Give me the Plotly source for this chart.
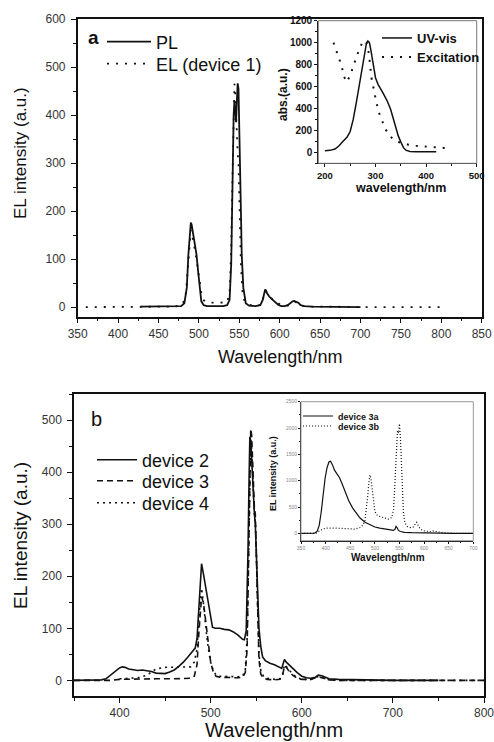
import plotly.graph_objects as go

W, H = 494, 742
FONT = "Liberation Sans, Arial, sans-serif"

# ---------------- Panel a: main ----------------
pl_x = [428, 440, 460, 470, 478, 482, 485, 487, 489, 490, 491, 493, 495, 497, 499, 501, 503, 506, 510, 520, 530,
        535, 538, 540, 542, 543, 544, 545, 546, 547, 548, 549, 550, 551, 552, 553, 555, 558, 562, 570, 576, 579,
        581, 582, 584, 587, 590, 594, 598, 602, 606, 610, 613, 616, 618, 620, 623, 626, 630, 640, 660, 680, 700]
pl_y = [1, 1, 1, 1, 2, 8, 40, 110, 165, 176, 172, 150, 128, 110, 75, 35, 12, 4, 2, 2, 2,
        4, 15, 90, 320, 400, 430, 405, 385, 430, 466, 455, 390, 310, 200, 110, 40, 8, 3, 2, 4, 15,
        33, 37, 30, 22, 17, 10, 5, 2, 2, 4, 9, 12, 13, 12, 9, 4, 2, 1, 1, 0, 0]

el_x = [360, 380, 400, 420, 430, 440, 460, 475, 480, 484, 487, 489, 490, 491, 493, 495, 497, 500, 503, 506, 510,
        520, 530, 535, 538, 540, 541, 542, 543, 544, 545, 546, 547, 548, 549, 550, 551, 552, 554, 556, 560, 570,
        578, 581, 583, 586, 590, 595, 600, 605, 610, 615, 618, 621, 625, 630, 640, 660, 680, 700, 720, 740, 760,
        780, 800]
el_y = [0, 0, 0, 0, 0, 1, 1, 2, 5, 30, 100, 150, 160, 155, 140, 120, 100, 65, 30, 14, 10,
        9, 9, 10, 30, 120, 220, 330, 420, 465, 445, 400, 340, 320, 300, 230, 150, 90, 30, 15, 5, 3,
        5, 30, 34, 25, 18, 12, 6, 3, 3, 8, 11, 10, 5, 2, 1, 1, 0, 0, 0, 0, 0,
        0, 0]

# ---------------- Panel a: inset ----------------
uv_x = [200, 210, 220, 228, 236, 244, 250, 256, 262, 268, 273, 278, 282, 285, 288, 291, 295, 300, 305, 309, 315,
        323, 330, 335, 340, 345, 350, 355, 360, 368, 380, 400, 420]
uv_y = [15, 18, 30, 60, 100, 140, 190, 300, 450, 620, 770, 910, 990, 1015, 1000, 930, 800, 680, 620, 590, 540,
        470, 390, 310, 230, 150, 95, 45, 20, 8, 5, 5, 5]

ex_x = [217, 225, 233, 237, 243, 250, 257, 264, 270, 276, 282, 287, 292, 297, 302, 307, 312, 318, 325, 335, 345,
        356, 365, 380, 400, 420, 435, 450]
ex_y = [1000, 890, 790, 700, 640, 700, 800, 890, 960, 1020, 1000, 900, 680, 560, 450, 360, 300, 230, 165, 120, 95,
        80, 70, 60, 50, 45, 40, 35]

# ---------------- Panel b: main ----------------
d2_x = [350, 370, 380, 385, 390, 395, 400, 403, 406, 410, 415, 420, 425, 430, 435, 440, 445, 450, 455, 460, 465,
        470, 475, 480, 483, 485, 487, 489, 490, 492, 494, 496, 498, 500, 502, 505, 510, 515, 520, 525, 530, 535,
        537, 539, 540, 541, 542, 543, 544, 545, 546, 547, 548, 549, 550, 551, 552, 553, 555, 557, 560, 565, 570,
        575, 578, 580, 581, 583, 586, 590, 595, 600, 605, 610, 615, 618, 622, 626, 630, 640, 660, 700, 750]
d2_y = [0, 0, 1, 3, 10, 18, 24, 26, 25, 22, 20, 19, 20, 19, 17, 14, 13, 13, 16, 20, 27,
        35, 45, 55, 62, 80, 130, 200, 224, 205, 185, 165, 140, 118, 102, 100, 100, 98, 97, 93, 87, 79,
        78, 95, 150, 250, 370, 468, 460, 420, 380, 340, 320, 300, 250, 190, 140, 100, 65, 45, 38, 33, 30,
        25, 23, 35, 40, 35, 30, 22, 15, 8, 5, 4, 6, 10, 9, 6, 3, 2, 1, 0, 0]

d3_x = [350, 370, 390, 400, 420, 440, 460, 470, 478, 482, 485, 487, 489, 490, 492, 494, 496, 498, 500, 503, 506,
        510, 520, 530, 535, 538, 540, 541, 542, 543, 544, 545, 546, 547, 548, 549, 550, 551, 552, 553, 555, 558,
        562, 570, 576, 579, 581, 583, 586, 590, 595, 600, 610, 615, 620, 625, 630, 640, 700, 750, 800]
d3_y = [0, 0, 0, 2, 3, 3, 3, 3, 4, 8, 30, 90, 140, 160, 150, 120, 90, 60, 35, 15, 8,
        6, 5, 5, 6, 15, 60, 150, 280, 400, 483, 470, 420, 360, 330, 320, 250, 160, 90, 40, 12, 4,
        2, 1, 2, 10, 28, 25, 18, 10, 4, 2, 2, 5, 6, 3, 1, 0, 0, 0, 0]

d4_x = [400, 420, 430, 440, 450, 460, 470, 478, 482, 485, 487, 489, 490, 492, 494, 496, 498, 500, 503, 506, 510,
        520, 530, 535, 538, 540, 541, 542, 543, 544, 545, 546, 547, 548, 549, 550, 551, 552, 553, 555, 558, 562,
        570, 576, 579, 581, 583, 586, 590, 595, 600, 610, 615, 620, 625, 630, 640, 700, 750, 800]
d4_y = [3, 5, 10, 22, 25, 25, 25, 26, 35, 60, 120, 170, 177, 150, 110, 80, 55, 35, 18, 10, 8,
        7, 7, 8, 20, 80, 170, 300, 420, 470, 440, 390, 340, 320, 300, 260, 180, 100, 50, 20, 8, 4,
        2, 3, 12, 30, 27, 20, 12, 5, 2, 2, 6, 8, 4, 1, 0, 0, 0, 0]

# ---------------- Panel b: inset ----------------
d3a_x = [350, 370, 378, 383, 387, 391, 395, 399, 403, 407, 410, 414, 418, 423, 428, 433, 440, 447, 455, 463, 470,
         480, 490, 500, 510, 520, 530, 538, 541, 543, 545, 548, 552, 560, 575, 600, 630, 660, 700]
d3a_y = [0, 0, 5, 40, 150, 400, 750, 1050, 1250, 1360, 1370, 1300, 1200, 1120, 1060, 950, 780, 620, 480, 370, 290,
         210, 160, 120, 100, 80, 60, 55, 80, 130, 110, 55, 35, 20, 12, 6, 3, 1, 0]

d3b_x = [350, 380, 390, 400, 420, 440, 460, 470, 476, 480, 483, 486, 488, 490, 492, 494, 496, 498, 500, 504, 510,
         520, 528, 534, 538, 540, 542, 544, 546, 548, 550, 552, 554, 556, 558, 561, 566, 572, 578, 582, 585, 588,
         592, 598, 605, 612, 618, 622, 628, 640, 660, 700]
d3b_y = [0, 0, 60, 100, 100, 85, 80, 110, 160, 250, 450, 750, 980, 1110, 1050, 880, 700, 520, 420, 350, 320,
         290, 270, 300, 450, 800, 1300, 1800, 1950, 1900, 2080, 1800, 1300, 800, 400, 200, 130, 110, 120, 180, 210, 150,
         90, 50, 35, 30, 45, 40, 20, 8, 2, 0]


def px(x):
    return x / W


def py(y):
    return 1 - y / H


fig = go.Figure()
K = "#111111"

traces = [
    # x, y, name, axes, line, legend id
    (pl_x, pl_y, "PL", "x", "y", dict(color=K, width=1.8), "legend"),
    (el_x, el_y, "EL (device 1)", "x", "y", dict(color=K, width=1.8, dash="2px,7px"), "legend2"),
    (uv_x, uv_y, "UV-vis", "x2", "y2", dict(color=K, width=1.5), "legend3"),
    (ex_x, ex_y, "Excitation", "x2", "y2", dict(color=K, width=2, dash="2px,7px"), "legend4"),
    (d2_x, d2_y, "device 2", "x3", "y3", dict(color=K, width=1.6), "legend5"),
    (d3_x, d3_y, "device 3", "x3", "y3", dict(color=K, width=1.6, dash="6px,4px"), "legend6"),
    (d4_x, d4_y, "device 4", "x3", "y3", dict(color=K, width=1.6, dash="2px,4px"), "legend7"),
    (d3a_x, d3a_y, "device 3a", "x4", "y4", dict(color=K, width=1.2), "legend8"),
    (d3b_x, d3b_y, "device 3b", "x4", "y4", dict(color=K, width=1.2, dash="1px,2px"), "legend9"),
]
for x, y, name, xa, ya, line, lg in traces:
    fig.add_trace(go.Scatter(x=x, y=y, name=name, mode="lines", xaxis=xa, yaxis=ya,
                             line=line, legend=lg))

tickfont_main = dict(family=FONT, size=12, color="#333")
common = dict(showgrid=False, zeroline=False, showline=True, linecolor=K, ticks="outside",
              tickcolor=K, automargin=False, ticklabeloverflow="allow")


def leg(x, yc, size, bold=False, itemwidth=30):
    f = dict(family=FONT, size=size, color=K)
    if bold:
        f["weight"] = "bold"
    return dict(x=px(x), y=py(yc), xanchor="left", yanchor="middle", bgcolor="rgba(0,0,0,0)",
                font=f, itemwidth=itemwidth, borderwidth=0)


fig.update_layout(
    width=W, height=H, margin=dict(l=0, r=0, t=0, b=0, pad=0, autoexpand=False),
    paper_bgcolor="white", plot_bgcolor="rgba(0,0,0,0)",
    font=dict(family=FONT, color=K),
    xaxis=dict(domain=[px(77.7), px(481.7)], anchor="y", range=[350, 850], tick0=350, dtick=50,
               ticklen=5, linewidth=1.5, mirror=True, tickfont=tickfont_main,
               minor=dict(ticks="outside", dtick=25, ticklen=3, tickcolor=K), **common),
    yaxis=dict(domain=[py(316.7), py(19)], anchor="x", range=[-20, 600], tick0=0, dtick=100,
               ticklen=5, linewidth=1.5, mirror=True, tickfont=tickfont_main, ticklabelstandoff=3,
               minor=dict(ticks="outside", dtick=50, ticklen=3, tickcolor=K), **common),
    xaxis2=dict(domain=[px(318.3), px(476.7)], anchor="y2", range=[187, 500], tick0=200, dtick=100,
                ticklen=3, linewidth=1.2,
                tickfont=dict(family=FONT, size=9.5, color=K, weight="bold"),
                minor=dict(ticks="outside", dtick=50, ticklen=2, tickcolor=K), **common),
    yaxis2=dict(domain=[py(163.3), py(20.7)], anchor="x2", range=[-100, 1200], tick0=0, dtick=200,
                ticklen=3, linewidth=1.2,
                tickfont=dict(family=FONT, size=10, color=K, weight="bold"),
                minor=dict(ticks="outside", dtick=100, ticklen=2, tickcolor=K), **common),
    xaxis3=dict(domain=[px(74), px(484)], anchor="y3", range=[350, 800], tick0=400, dtick=100,
                ticklen=5, linewidth=1.5, mirror=True, tickfont=tickfont_main,
                minor=dict(ticks="outside", dtick=50, ticklen=3, tickcolor=K), **common),
    yaxis3=dict(domain=[py(696), py(394)], anchor="x3", range=[-30, 550], tick0=0, dtick=100,
                ticklen=5, linewidth=1.5, mirror=True, tickfont=tickfont_main, ticklabelstandoff=3,
                minor=dict(ticks="outside", dtick=50, ticklen=3, tickcolor=K), **common),
    xaxis4=dict(domain=[px(301), px(473.3)], anchor="y4", range=[350, 700], tick0=350, dtick=50,
                ticklen=2, linewidth=0.8,
                tickfont=dict(family=FONT, size=5, color="#888"),
                minor=dict(ticks="outside", dtick=25, ticklen=1.5, tickcolor=K), **common),
    yaxis4=dict(domain=[py(540.7), py(401.7)], anchor="x4", range=[-140, 2500], tick0=0, dtick=500,
                ticklen=2, linewidth=0.8,
                tickfont=dict(family=FONT, size=5, color="#888"),
                minor=dict(ticks="outside", dtick=250, ticklen=1.5, tickcolor=K), **common),
    legend=leg(102, 42, 18, itemwidth=44),
    legend2=leg(102, 64, 18, itemwidth=44),
    legend3=leg(377, 38, 13, bold=True),
    legend4=leg(377, 57, 13, bold=True),
    legend5=leg(92, 460, 18, itemwidth=40),
    legend6=leg(92, 481, 18, itemwidth=40),
    legend7=leg(92, 503, 18, itemwidth=40),
    legend8=leg(298, 416, 9, bold=True),
    legend9=leg(298, 426, 9, bold=True),
    showlegend=True,
)

# inset frames (gray)
fig.add_shape(type="rect", xref="x2 domain", yref="y2 domain", x0=0, x1=1, y0=0, y1=1,
              line=dict(color="#777", width=1))
fig.add_shape(type="rect", xref="x4 domain", yref="y4 domain", x0=0, x1=1, y0=0, y1=1,
              line=dict(color="#999", width=1))

ann = [
    dict(text="<b>a</b>", x=px(86), y=py(37), size=19, xanchor="left"),
    dict(text="b", x=px(89), y=py(419), size=20, xanchor="left"),
    dict(text="EL intensity (a.u.)", x=px(20), y=py(153), size=17, angle=-90),
    dict(text="Wavelength/nm", x=px(280), y=py(357), size=18),
    dict(text="<b>abs.(a.u.)</b>", x=px(283), y=py(95), size=12, angle=-90),
    dict(text="<b>wavelength/nm</b>", x=px(400), y=py(188), size=12.5),
    dict(text="EL intensity (a.u.)", x=px(20), y=py(536), size=19, angle=-90),
    dict(text="Wavelength/nm", x=px(274), y=py(730), size=20),
    dict(text="<b>EL intensity (a.u.)</b>", x=px(273), y=py(474), size=9, angle=-90),
    dict(text="<b>Wavelength/nm</b>", x=px(388), y=py(557), size=10),
]
for a in ann:
    fig.add_annotation(text=a["text"], x=a["x"], y=a["y"], xref="paper", yref="paper",
                       showarrow=False, textangle=a.get("angle", 0),
                       xanchor=a.get("xanchor", "center"), yanchor="middle",
                       font=dict(family=FONT, size=a["size"], color=K))

fig.write_html("out.html", config={"displayModeBar": False},
               post_script="document.body.style.margin='0px';")
